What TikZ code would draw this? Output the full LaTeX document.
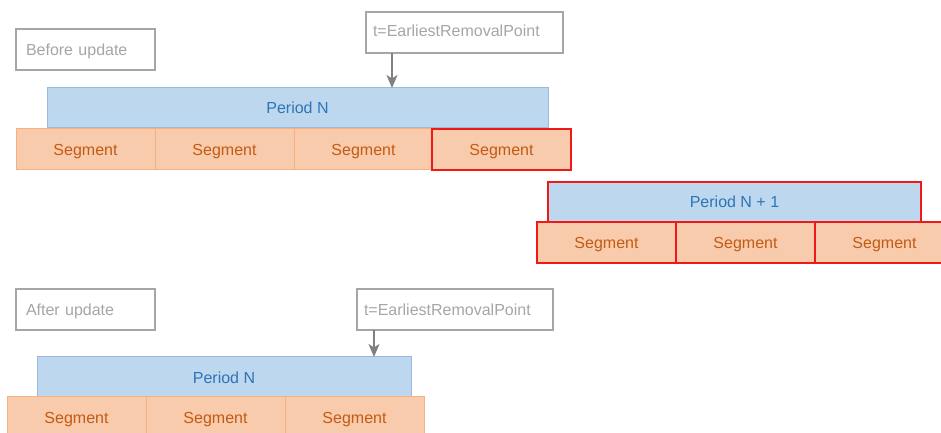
\documentclass[tikz,border=0pt]{standalone}
\usepackage{fontspec}
\setmainfont{Liberation Sans}
\usetikzlibrary{arrows.meta}
\definecolor{periodfill}{HTML}{BDD7EE}
\definecolor{periodline}{HTML}{9BB9DD}
\definecolor{periodtext}{HTML}{2E75B6}
\definecolor{segfill}{HTML}{F8CBAD}
\definecolor{segline}{HTML}{F4B183}
\definecolor{segtext}{HTML}{C55A11}
\definecolor{hotred}{HTML}{F01818}
\definecolor{boxgray}{HTML}{A6A6A6}
\definecolor{arrowgray}{HTML}{808080}
\begin{document}
\begin{tikzpicture}[x=1bp,y=-1bp,
  every node/.style={font=\fontsize{16bp}{19bp}\selectfont, inner sep=0pt, outer sep=0pt, anchor=north west},
  period/.style={draw=periodline, line width=1bp, fill=periodfill, text=periodtext,
    minimum height=40bp, text height=12bp, text depth=0pt},
  seg/.style={draw=segline, line width=1bp, fill=segfill, text=segtext,
    minimum width=139bp, minimum height=41bp, text height=12bp, text depth=0pt},
  hot/.style={draw=hotred, line width=2.5bp},
  notebox/.style={draw=boxgray, line width=1.5bp, fill=white, text=boxgray,
    minimum height=41bp, align=left, text height=12bp, text depth=0pt},
  pointer/.style={draw=arrowgray, line width=1.6bp, -{Stealth[length=13bp,width=11bp,inset=3.5bp]}}
]
\useasboundingbox (0,0) rectangle (941,433);
\clip (0,0) rectangle (941,433);

% ---- before the update ----
\node[notebox, text width=119bp, inner xsep=10bp] (before) at (16,29) {Before update};
\node[notebox, text width=183bp, inner xsep=7bp, text depth=3bp] (tA) at (366,12) {t=EarliestRemovalPoint};

\node[period, minimum width=501bp] (pA) at (47,88) {Period N};
\node[seg] (a1) at (16,129) {Segment};
\node[seg] (a2) at (155,129) {Segment};
\node[seg] (a3) at (294,129) {Segment};
\node[seg, hot] (a4) at (432,129) {Segment};

\coordinate (pinA) at (392,88);
\draw[pointer] (pinA |- tA.south) -- (pinA);

% next period, removed by the update
\node[period, hot, minimum width=373bp] (pB) at (548,182) {Period N + 1};
\node[seg, hot] (b1) at (537,222) {Segment};
\node[seg, hot] (b2) at (676,222) {Segment};
\node[seg, hot] (b3) at (815,222) {Segment};

% ---- after the update ----
\node[notebox, text width=119bp, inner xsep=10bp] (after) at (16,289) {After update};
\node[notebox, text width=182bp, inner xsep=7bp] (tB) at (357,289) {t=EarliestRemovalPoint};

\node[period, minimum width=374bp] (pC) at (37,357) {Period N};
\node[seg] (c1) at (7,397) {Segment};
\node[seg] (c2) at (146,397) {Segment};
\node[seg] (c3) at (285,397) {Segment};

\coordinate (pinB) at (374,357);
\draw[pointer] (pinB |- tB.south) -- (pinB);
\end{tikzpicture}
\end{document}
